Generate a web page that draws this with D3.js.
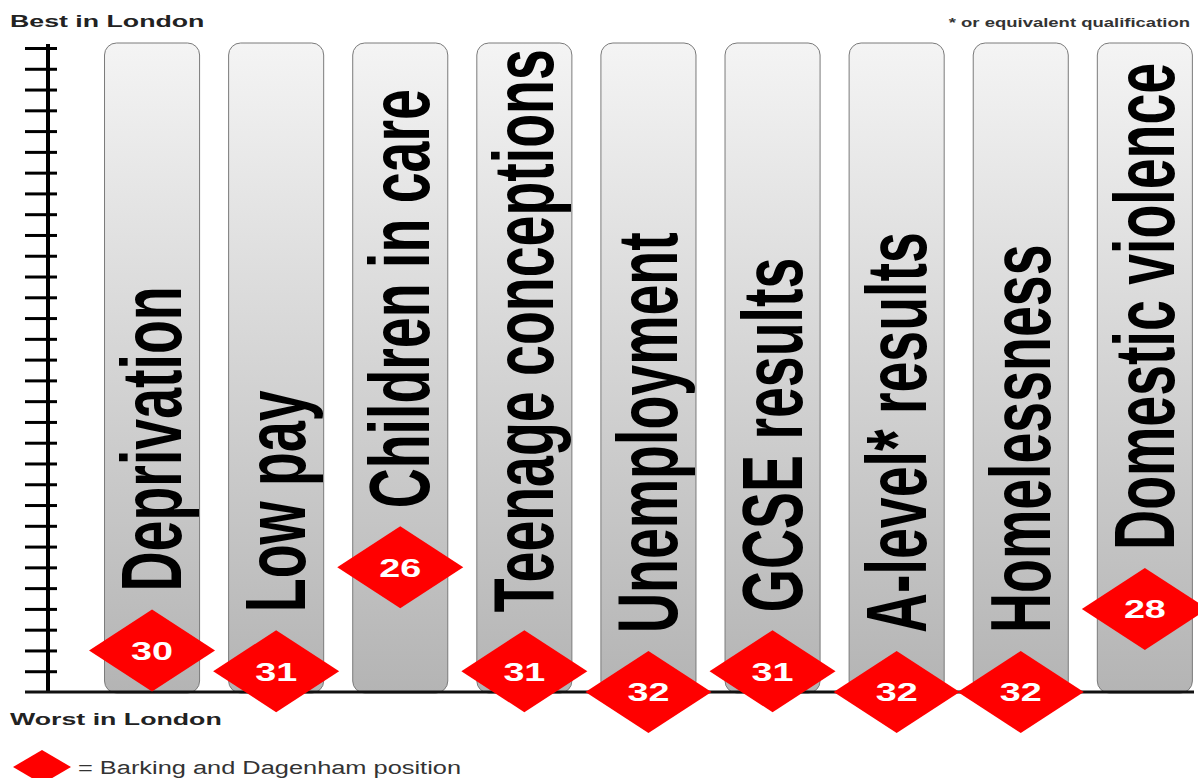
<!DOCTYPE html>
<html>
<head>
<meta charset="utf-8">
<script src="https://cdn.jsdelivr.net/npm/d3@7"></script>
<style>
  body { margin: 0; background: #fff; }
  svg { display: block; font-family: "Liberation Sans", Arial, sans-serif; }
</style>
</head>
<body>
<script>
'use strict';

// indicators, left to right
const categories = ["Deprivation", "Low pay", "Children in care", "Teenage conceptions",
  "Unemployment", "GCSE results", "A-level* results", "Homelessness", "Domestic violence"];
// Barking and Dagenham rank among London boroughs (1 = best, 32 = worst)
const ranks = [30, 31, 26, 31, 32, 31, 32, 32, 28];
const tickRanks = d3.range(1, 32);

(function() {
  let svg = d3.select('body').append('svg')
    .attr('width', 1198)
    .attr('height', 778);

  // vertical gradient for the columns
  let grad = svg.append('defs').append('linearGradient')
    .attr('id', 'colGrad')
    .attr('x1', 0).attr('y1', 0).attr('x2', 0).attr('y2', 1);
  grad.append('stop').attr('offset', '0%').attr('stop-color', '#f4f4f4');
  grad.append('stop').attr('offset', '100%').attr('stop-color', '#b4b4b4');

  // scales
  let x = d3.scaleBand()
    .domain(categories)
    .range([90, 90 + 124.1 * categories.length])
    .paddingInner(0.234)
    .paddingOuter(0.117);

  let y = d3.scaleLinear()
    .domain([1, 32])
    .range([48, 692]);

  const top = 43, bottom = 693;

  // grey columns
  svg.selectAll('.col')
    .data(categories)
    .enter()
    .append('rect')
      .attr('class', 'col')
      .attr('x', d => x(d))
      .attr('y', top)
      .attr('width', x.bandwidth())
      .attr('height', bottom - top)
      .attr('rx', 12)
      .attr('fill', 'url(#colGrad)')
      .attr('stroke', '#7a7a7a')
      .attr('stroke-width', 1);

  // left axis with ticks either side of the line
  let axis = svg.append('g')
    .attr('transform', 'translate(48, 0)')
    .call(d3.axisLeft(y).tickValues(tickRanks).tickSize(23).tickFormat(''));
  axis.select('.domain').remove();
  axis.selectAll('.tick line')
    .attr('x1', 9)
    .attr('x2', -23)
    .attr('stroke', '#000')
    .attr('stroke-width', 3);

  svg.append('line')
    .attr('x1', 48).attr('x2', 48)
    .attr('y1', 44).attr('y2', y(32))
    .attr('stroke', '#000')
    .attr('stroke-width', 4);

  // baseline
  svg.append('line')
    .attr('x1', 25).attr('x2', 1194)
    .attr('y1', y(32)).attr('y2', y(32))
    .attr('stroke', '#111')
    .attr('stroke-width', 3);

  // rotated category labels, starting just above each diamond
  svg.selectAll('.lab')
    .data(categories)
    .enter()
    .append('text')
      .attr('class', 'lab')
      .attr('transform', (d, i) => {
        let cx = x(d) + x.bandwidth() / 2 + 29;
        let ys = y(ranks[i]) - 41 - 18;
        return 'translate(' + cx + ',' + ys + ')rotate(-90)scale(0.645,1)';
      })
      .style('font-size', '86px')
      .style('font-weight', 'bold')
      .attr('fill', '#000')
      .text(d => d);

  // diamonds
  let dg = svg.selectAll('.dia')
    .data(categories)
    .enter()
    .append('g')
      .attr('class', 'dia')
      .attr('transform', (d, i) => 'translate(' + (x(d) + x.bandwidth() / 2) + ',' + y(ranks[i]) + ')');

  dg.append('path')
    .attr('d', 'M-63,0L0,-41L63,0L0,41Z')
    .attr('fill', '#ff0000');

  dg.append('text')
    .attr('transform', 'scale(1.45,1)')
    .attr('text-anchor', 'middle')
    .attr('dy', '0.36em')
    .style('font-size', '26px')
    .style('font-weight', 'bold')
    .attr('fill', '#fff')
    .text((d, i) => ranks[i]);

  // captions
  svg.append('text')
    .attr('transform', 'translate(10,27)scale(1.62,1)')
    .style('font-size', '16.5px')
    .style('font-weight', 'bold')
    .attr('fill', '#222')
    .text('Best in London');

  svg.append('text')
    .attr('transform', 'translate(10,725)scale(1.62,1)')
    .style('font-size', '16.5px')
    .style('font-weight', 'bold')
    .attr('fill', '#222')
    .text('Worst in London');

  svg.append('text')
    .attr('transform', 'translate(1190,27)scale(1.48,1)')
    .attr('text-anchor', 'end')
    .style('font-size', '12.5px')
    .style('font-weight', 'bold')
    .attr('fill', '#333')
    .text('* or equivalent qualification');

  // legend
  svg.append('path')
    .attr('d', 'M13,767L42,750L71,767L42,784Z')
    .attr('fill', '#ff0000');

  svg.append('text')
    .attr('transform', 'translate(78,774)scale(1.41,1)')
    .style('font-size', '18px')
    .attr('fill', '#333')
    .text('= Barking and Dagenham position');
})();
</script>
</body>
</html>
